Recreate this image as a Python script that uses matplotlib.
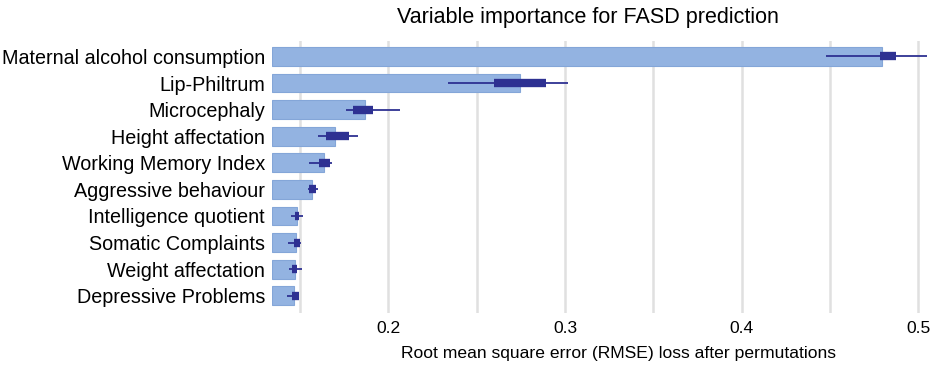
import matplotlib.pyplot as plt
import numpy as np

plt.rcParams['font.family'] = ['Liberation Sans', 'DejaVu Sans']

features = ['Maternal alcohol consumption', 'Lip-Philtrum', 'Microcephaly',
            'Height affectation', 'Working Memory Index', 'Aggressive behaviour',
            'Intelligence quotient', 'Somatic Complaints', 'Weight affectation',
            'Depressive Problems']
baseline = 0.1342
mean_loss = [0.4793, 0.2745, 0.1866, 0.1700, 0.1636, 0.1570, 0.1481, 0.1477, 0.1472, 0.1468]
q1 = [0.4783, 0.2600, 0.1802, 0.1647, 0.1608, 0.1549, 0.1470, 0.1468, 0.1457, 0.1453]
q3 = [0.4872, 0.2890, 0.1911, 0.1779, 0.1670, 0.1591, 0.1496, 0.1500, 0.1485, 0.1494]
lo = [0.4476, 0.2336, 0.1759, 0.1600, 0.1553, 0.1545, 0.1447, 0.1430, 0.1440, 0.1428]
hi = [0.5050, 0.3017, 0.2066, 0.1827, 0.1679, 0.1604, 0.1519, 0.1506, 0.1510, 0.1494]

bar_col = '#93b3e1'
box_col = '#2e3192'

fig = plt.figure(figsize=(9.35, 3.66), dpi=100)
ax = fig.add_axes([0.2909, 0.1448, 0.7038, 0.7432])

y = np.arange(len(features))
widths = [m - baseline for m in mean_loss]
ax.barh(y, widths, left=baseline, height=0.71, color=bar_col,
        edgecolor='#84a6d8', linewidth=0.8, zorder=2)
ax.hlines(y, lo, hi, color=box_col, linewidth=1.3, zorder=3)
ax.hlines(y, q1, q3, color=box_col, linewidth=6, zorder=4)

ax.set_xlim(baseline, 0.5066)
ax.set_ylim(9.65, -0.58)
ax.set_yticks(y)
ax.set_yticklabels(features, fontsize=14.2)
ax.set_xticks([0.2, 0.3, 0.4, 0.5])
ax.set_xticklabels(['0.2', '0.3', '0.4', '0.5'], fontsize=12.6)
ax.set_xticks(np.arange(0.15, 0.51, 0.05), minor=True)
ax.grid(axis='x', which='both', color='#e0e0e0', linewidth=1.8, zorder=0)
ax.set_axisbelow(True)
ax.tick_params(axis='both', which='both', length=0)
ax.tick_params(axis='y', pad=5)
ax.tick_params(axis='x', pad=6)
for s in ax.spines.values():
    s.set_visible(False)

ax.set_xlabel('Root mean square error (RMSE) loss after permutations', fontsize=12.6)
ax.xaxis.set_label_coords(0.526, -0.12)
ax.set_title('Variable importance for FASD prediction', fontsize=15.5, x=0.48, pad=13)

fig.savefig('out.png', dpi=100)
